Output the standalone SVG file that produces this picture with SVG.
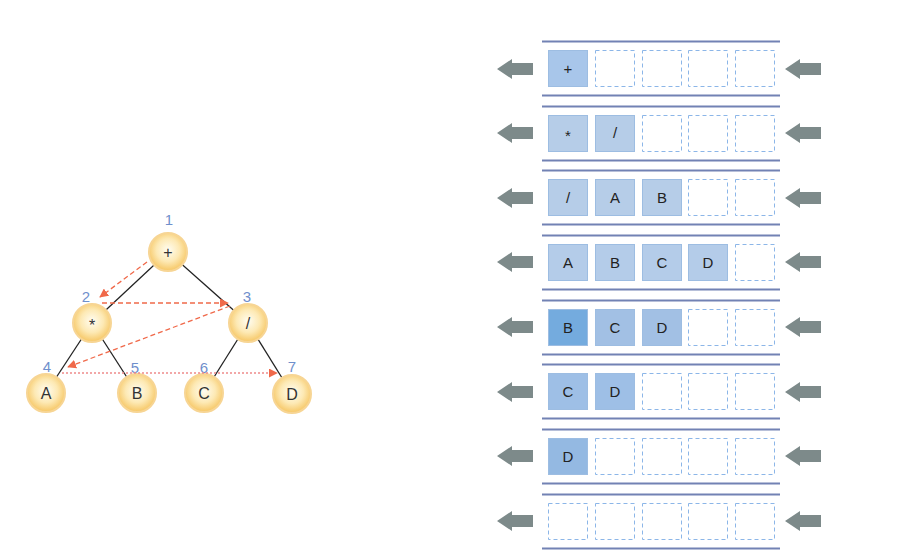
<svg xmlns="http://www.w3.org/2000/svg" width="921" height="560" viewBox="0 0 921 560">
<defs>
<style>
.edge{stroke:#222;stroke-width:1.3;fill:none}
.trav{stroke:#f0694a;stroke-width:1.3;fill:none;stroke-dasharray:5 3}
.trav2{stroke:#ee8a8a;stroke-width:1.6;fill:none;stroke-dasharray:2 2}
.node circle{fill:url(#ng);stroke:#f7d594;stroke-width:2}
.nt{font-family:"Liberation Sans",Arial,sans-serif;font-size:16px;fill:#333;text-anchor:middle}
.num{font-family:"Liberation Sans",Arial,sans-serif;font-size:15px;fill:#6f8fcc;text-anchor:middle}
.rail{stroke:#7282b4;stroke-width:2}
.empty{fill:#fff;stroke:#8cb6e8;stroke-width:1;stroke-dasharray:4 3}
.full{stroke:#9dbde2;stroke-width:1}
.ct{font-family:"Liberation Sans",Arial,sans-serif;font-size:15px;fill:#222;text-anchor:middle}
.garr{fill:#7d8a8a}
</style>
<radialGradient id="ng" cx="50%" cy="45%" r="55%">
<stop offset="0" stop-color="#fffdf2"/>
<stop offset="0.55" stop-color="#fde9b4"/>
<stop offset="1" stop-color="#f6c663"/>
</radialGradient>
<marker id="ah" viewBox="0 0 10 10" refX="9" refY="5" markerWidth="9" markerHeight="9" markerUnits="userSpaceOnUse" orient="auto">
<path d="M0,0 L10,5 L0,10 z" fill="#f0694a"/>
</marker>
<polygon id="ga" points="0,0 15,-10 15,-6 36,-6 36,6 15,6 15,10"/>
</defs>
<rect width="921" height="560" fill="#fff"/>

<g id="tree-edges">
<line class="edge" x1="168" y1="252" x2="92" y2="323"/>
<line class="edge" x1="168" y1="252" x2="248" y2="323"/>
<line class="edge" x1="92" y1="323" x2="46" y2="393"/>
<line class="edge" x1="92" y1="323" x2="137" y2="393"/>
<line class="edge" x1="248" y1="323" x2="204" y2="393"/>
<line class="edge" x1="248" y1="323" x2="292" y2="394"/>
</g>

<g id="n1" class="node"><circle cx="168" cy="252" r="19"/><text class="nt" x="168" y="258">+</text><text class="num" x="169" y="225">1</text></g>
<g id="n2" class="node"><circle cx="92" cy="323" r="19"/><text class="nt" x="92" y="331">*</text><text class="num" x="86" y="302">2</text></g>
<g id="n3" class="node"><circle cx="248" cy="323" r="19"/><text class="nt" x="248" y="329">/</text><text class="num" x="247" y="302">3</text></g>
<g id="n4" class="node"><circle cx="46" cy="393" r="19"/><text class="nt" x="46" y="399">A</text><text class="num" x="47" y="372">4</text></g>
<g id="n5" class="node"><circle cx="137" cy="393" r="19"/><text class="nt" x="137" y="399">B</text><text class="num" x="135" y="373">5</text></g>
<g id="n6" class="node"><circle cx="204" cy="393" r="19"/><text class="nt" x="204" y="399">C</text><text class="num" x="204" y="373">6</text></g>
<g id="n7" class="node"><circle cx="292" cy="394" r="19"/><text class="nt" x="292" y="400">D</text><text class="num" x="292" y="372">7</text></g>

<g id="traversal">
<line class="trav" x1="147" y1="262" x2="100" y2="297" marker-end="url(#ah)"/>
<line class="trav" x1="102" y1="303" x2="228" y2="303" marker-end="url(#ah)"/>
<line class="trav" x1="230" y1="306" x2="68" y2="367" marker-end="url(#ah)"/>
<line class="trav2" x1="62" y1="373" x2="277" y2="373" marker-end="url(#ah)"/>
</g>

<g id="queues">
<g id="rails">
<line class="rail" x1="542" y1="41.5" x2="780" y2="41.5"/><line class="rail" x1="542" y1="95.5" x2="780" y2="95.5"/>
<line class="rail" x1="542" y1="106.5" x2="780" y2="106.5"/><line class="rail" x1="542" y1="160.5" x2="780" y2="160.5"/>
<line class="rail" x1="542" y1="170.5" x2="780" y2="170.5"/><line class="rail" x1="542" y1="224.5" x2="780" y2="224.5"/>
<line class="rail" x1="542" y1="235.5" x2="780" y2="235.5"/><line class="rail" x1="542" y1="289.5" x2="780" y2="289.5"/>
<line class="rail" x1="542" y1="300.5" x2="780" y2="300.5"/><line class="rail" x1="542" y1="354.5" x2="780" y2="354.5"/>
<line class="rail" x1="542" y1="364.5" x2="780" y2="364.5"/><line class="rail" x1="542" y1="418.5" x2="780" y2="418.5"/>
<line class="rail" x1="542" y1="429.5" x2="780" y2="429.5"/><line class="rail" x1="542" y1="483.5" x2="780" y2="483.5"/>
<line class="rail" x1="542" y1="494.5" x2="780" y2="494.5"/><line class="rail" x1="542" y1="548.5" x2="780" y2="548.5"/>
</g>
<g id="arrows" class="garr">
<use href="#ga" x="497" y="69"/><use href="#ga" x="785" y="69"/>
<use href="#ga" x="497" y="133"/><use href="#ga" x="785" y="133"/>
<use href="#ga" x="497" y="198"/><use href="#ga" x="785" y="198"/>
<use href="#ga" x="497" y="262"/><use href="#ga" x="785" y="262"/>
<use href="#ga" x="497" y="327"/><use href="#ga" x="785" y="327"/>
<use href="#ga" x="497" y="392"/><use href="#ga" x="785" y="392"/>
<use href="#ga" x="497" y="456"/><use href="#ga" x="785" y="456"/>
<use href="#ga" x="497" y="521"/><use href="#ga" x="785" y="521"/>
</g>

<g id="q1">
<rect class="full" x="548.5" y="50.5" width="39" height="36" fill="#a8c6ea"/><text class="ct" x="568" y="74">+</text>
<rect class="empty" x="595.5" y="50.5" width="39" height="36"/>
<rect class="empty" x="642.5" y="50.5" width="39" height="36"/>
<rect class="empty" x="688.5" y="50.5" width="39" height="36"/>
<rect class="empty" x="735.5" y="50.5" width="39" height="36"/>
</g>
<g id="q2">
<rect class="full" x="548.5" y="115.5" width="39" height="36" fill="#b6cde8"/><text class="ct" x="568" y="141">*</text>
<rect class="full" x="595.5" y="115.5" width="39" height="36" fill="#b6cde8"/><text class="ct" x="615" y="138">/</text>
<rect class="empty" x="642.5" y="115.5" width="39" height="36"/>
<rect class="empty" x="688.5" y="115.5" width="39" height="36"/>
<rect class="empty" x="735.5" y="115.5" width="39" height="36"/>
</g>
<g id="q3">
<rect class="full" x="548.5" y="179.5" width="39" height="36" fill="#b6cde8"/><text class="ct" x="568" y="203">/</text>
<rect class="full" x="595.5" y="179.5" width="39" height="36" fill="#b6cde8"/><text class="ct" x="615" y="203">A</text>
<rect class="full" x="642.5" y="179.5" width="39" height="36" fill="#b6cde8"/><text class="ct" x="662" y="203">B</text>
<rect class="empty" x="688.5" y="179.5" width="39" height="36"/>
<rect class="empty" x="735.5" y="179.5" width="39" height="36"/>
</g>
<g id="q4">
<rect class="full" x="548.5" y="244.5" width="39" height="36" fill="#b4cce9"/><text class="ct" x="568" y="268">A</text>
<rect class="full" x="595.5" y="244.5" width="39" height="36" fill="#b4cce9"/><text class="ct" x="615" y="268">B</text>
<rect class="full" x="642.5" y="244.5" width="39" height="36" fill="#b4cce9"/><text class="ct" x="662" y="268">C</text>
<rect class="full" x="688.5" y="244.5" width="39" height="36" fill="#b4cce9"/><text class="ct" x="708" y="268">D</text>
<rect class="empty" x="735.5" y="244.5" width="39" height="36"/>
</g>
<g id="q5">
<rect class="full" x="548.5" y="309.5" width="39" height="36" fill="#74abde"/><text class="ct" x="568" y="333">B</text>
<rect class="full" x="595.5" y="309.5" width="39" height="36" fill="#a2c0e4"/><text class="ct" x="615" y="333">C</text>
<rect class="full" x="642.5" y="309.5" width="39" height="36" fill="#a2c0e4"/><text class="ct" x="662" y="333">D</text>
<rect class="empty" x="688.5" y="309.5" width="39" height="36"/>
<rect class="empty" x="735.5" y="309.5" width="39" height="36"/>
</g>
<g id="q6">
<rect class="full" x="548.5" y="373.5" width="39" height="36" fill="#9ebfe6"/><text class="ct" x="568" y="397">C</text>
<rect class="full" x="595.5" y="373.5" width="39" height="36" fill="#9ebfe6"/><text class="ct" x="615" y="397">D</text>
<rect class="empty" x="642.5" y="373.5" width="39" height="36"/>
<rect class="empty" x="688.5" y="373.5" width="39" height="36"/>
<rect class="empty" x="735.5" y="373.5" width="39" height="36"/>
</g>
<g id="q7">
<rect class="full" x="548.5" y="438.5" width="39" height="36" fill="#94b9e2"/><text class="ct" x="568" y="462">D</text>
<rect class="empty" x="595.5" y="438.5" width="39" height="36"/>
<rect class="empty" x="642.5" y="438.5" width="39" height="36"/>
<rect class="empty" x="688.5" y="438.5" width="39" height="36"/>
<rect class="empty" x="735.5" y="438.5" width="39" height="36"/>
</g>
<g id="q8">
<rect class="empty" x="548.5" y="503.5" width="39" height="36"/>
<rect class="empty" x="595.5" y="503.5" width="39" height="36"/>
<rect class="empty" x="642.5" y="503.5" width="39" height="36"/>
<rect class="empty" x="688.5" y="503.5" width="39" height="36"/>
<rect class="empty" x="735.5" y="503.5" width="39" height="36"/>
</g>
</g>
</svg>
